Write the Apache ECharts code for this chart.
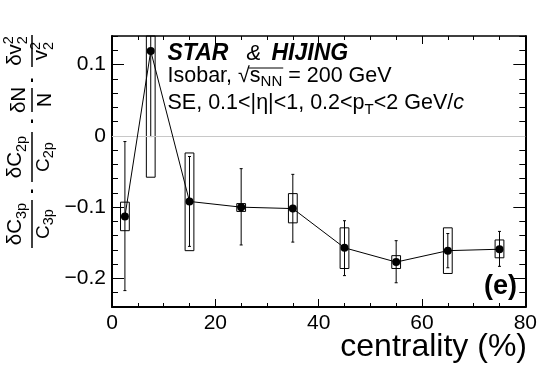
<!DOCTYPE html>
<html><head><meta charset="utf-8">
<script src="https://cdn.jsdelivr.net/npm/echarts@6/dist/echarts.min.js"></script>
<style>html,body{margin:0;padding:0;background:#fff}#c{width:540px;height:366px}</style>
</head><body><div id="c"></div>
<script>
// ---- data ----
const centrality = [2.5, 7.5, 15, 25, 35, 45, 55, 65, 75];
const values   = [-0.113, 0.119, -0.092, -0.100, -0.102, -0.157, -0.177, -0.161, -0.159];
const statLow  = [-0.217, -0.001, -0.155, -0.153, -0.149, -0.196, -0.206, -0.185, -0.183];
const statHigh = [-0.008, 0.300, -0.029, -0.046, -0.054, -0.119, -0.147, -0.137, -0.134];
const sysLow   = [-0.133, -0.058, -0.161, -0.106, -0.122, -0.186, -0.186, -0.193, -0.171];
const sysHigh  = [-0.093, 0.200, -0.024, -0.095, -0.081, -0.129, -0.168, -0.129, -0.146];
const yMajorTicks = [-0.2, -0.1, 0, 0.1];
const yMinorTicks = [-0.24, -0.22, -0.18, -0.16, -0.14, -0.12, -0.08, -0.06, -0.04, -0.02, 0.02, 0.04, 0.06, 0.08, 0.12, 0.14];

const FF = '"Liberation Sans", Arial, Helvetica, sans-serif';
const ctx = document.createElement('canvas').getContext('2d');
function tw(t, s, b, i) { ctx.font = (i ? 'italic ' : 'normal ') + (b ? 'bold ' : 'normal ') + s + 'px ' + FF; return ctx.measureText(t).width; }
function txt(t, x, base, s, b, i, align) {
  return { type: 'text', x: x, y: base - 0.35 * s, silent: true,
    style: { text: t, fontSize: s, fontFamily: FF, fontWeight: b ? 'bold' : 'normal', fontStyle: i ? 'italic' : 'normal',
      fill: '#000', align: align || 'left', verticalAlign: 'middle' } };
}
// pieces laid out sequentially: {t,s,b,i,dy,gap}
function row(x, base, pieces, align) {
  let total = 0;
  pieces.forEach(p => { total += tw(p.t, p.s, p.b, p.i) + (p.gap || 0); });
  let cx = align === 'center' ? x - total / 2 : (align === 'right' ? x - total : x);
  const out = [];
  pieces.forEach(p => {
    cx += (p.gap || 0);
    out.push(txt(p.t, cx, base + (p.dy || 0), p.s, p.b, p.i));
    p._x = cx;
    cx += tw(p.t, p.s, p.b, p.i);
    p._end = cx;
  });
  return out;
}
function ln(x1, y1, x2, y2, w) { return { type: 'line', silent: true, shape: { x1, y1, x2, y2 }, style: { stroke: '#000', lineWidth: w || 1.5 } }; }

// ---- annotation text ----
const gfx = [];
gfx.push(txt('STAR', 167.5, 61.5, 23, true, true));
gfx.push(txt('&', 246.5, 61.5, 22, false, true));
gfx.push(txt('HIJING', 271.5, 61.5, 23, true, true));
const l2 = [{ t: 'Isobar, ', s: 21.5 }, { t: '\u221A', s: 21.5 }, { t: 's', s: 21.5 }, { t: 'NN', s: 15, dy: 4 }, { t: ' = 200 GeV', s: 21.5 }];
gfx.push(...row(167.5, 83.5, l2));
gfx.push(ln(l2[1]._end - 1, 68, l2[3]._end + 1, 68, 1));
const l3 = [{ t: 'SE, 0.1<|\u03B7|<1, 0.2<p', s: 21.5 }, { t: 'T', s: 15, dy: 4 }, { t: '<2 GeV/', s: 21.5 }, { t: 'c', s: 21.5, i: true }];
gfx.push(...row(167.5, 111, l3));
gfx.push(txt('(e)', 517, 296, 27, true, false, 'right'));
gfx.push(txt('centrality (%)', 527, 358, 32, false, false, 'right'));

// ---- rotated y-axis title (local coords: x along text, y across) ----
const yt = [];
function frac(x0, x1, num, den) {
  const c = (x0 + x1) / 2;
  yt.push(ln(x0, 0, x1, 0, 1.5));
  yt.push(...row(c, num.base, num.pieces, 'center'));
  yt.push(...row(c, den.base, den.pieces, 'center'));
}
frac(0, 48, { base: -9, pieces: [{ t: '\u03B4C', s: 20.5 }, { t: '3p', s: 14.5, dy: 4 }] },
            { base: 18.5, pieces: [{ t: 'C', s: 19 }, { t: '3p', s: 14.5, dy: 4 }] });
yt.push(ln(55, 0, 58.5, 0, 2));
frac(66, 116, { base: -9, pieces: [{ t: '\u03B4C', s: 20.5 }, { t: '2p', s: 14.5, dy: 4 }] },
              { base: 18.5, pieces: [{ t: 'C', s: 19 }, { t: '2p', s: 14.5, dy: 4 }] });
yt.push(ln(125, 0, 128.5, 0, 2));
frac(136, 160, { base: -5, pieces: [{ t: '\u03B4N', s: 20.5 }] },
               { base: 20, pieces: [{ t: 'N', s: 19.5 }] });
yt.push(ln(166, 0, 169.5, 0, 2));
// delta v2^2 / v2^2 : super and sub stacked
(function () {
  const x0 = 181, x1 = 213, c = (x0 + x1) / 2;
  yt.push(ln(x0, 0, x1, 0, 1.5));
  const wn = tw('\u03B4v', 20.5) + tw('2', 14.5);
  let sx = c - wn / 2;
  yt.push(txt('\u03B4v', sx, -9, 20.5));
  sx += tw('\u03B4v', 20.5);
  yt.push(txt('2', sx, -18, 14.5));
  yt.push(txt('2', sx, -4, 14.5));
  const wd = tw('v', 20.5) + tw('2', 14.5);
  let dx = c - wd / 2;
  yt.push(txt('v', dx, 17, 20.5));
  dx += tw('v', 20.5);
  yt.push(txt('2', dx, 9, 14.5));
  yt.push(txt('2', dx, 22, 14.5));
})();
gfx.push({ type: 'group', x: 32, y: 248, rotation: Math.PI / 2, children: yt });

// ---- chart ----
const chart = echarts.init(document.getElementById('c'), null, { renderer: 'canvas' });
const lbl = { fontSize: 21, color: '#000', fontFamily: FF };
const xBase = {
  type: 'value', min: 0, max: 80, interval: 20,
  axisLine: { show: true, onZero: false, lineStyle: { color: '#000', width: 2 } },
  axisTick: { show: true, inside: true, length: 8, lineStyle: { color: '#000', width: 1 } },
  minorTick: { show: true, splitNumber: 4, length: 4, lineStyle: { color: '#000', width: 1 } },
  splitLine: { show: false }, minorSplitLine: { show: false }
};
const yBase = {
  type: 'value', min: -0.24, max: 0.14, scale: true,
  axisLine: { show: true, onZero: false, lineStyle: { color: '#000', width: 2 } },
  splitLine: { show: false }
};
function yAx(pos, major, showLabel) {
  return Object.assign({}, yBase, {
    position: pos,
    axisLine: { show: major, onZero: false, lineStyle: { color: '#000', width: 2 } },
    axisTick: { show: true, inside: true, length: major ? 12 : 6, customValues: major ? yMajorTicks : yMinorTicks, lineStyle: { color: '#000', width: 1 } },
    axisLabel: showLabel ? Object.assign({ show: true, margin: 6, customValues: yMajorTicks,
      formatter: v => (Math.round(v * 10) / 10).toString().replace('-', '\u2212') }, lbl) : { show: false }
  });
}
chart.setOption({
  animation: false,
  backgroundColor: '#fff',
  grid: { left: 112, right: 12, top: 36, bottom: 59, containLabel: false },
  xAxis: [
    Object.assign({}, xBase, { position: 'bottom', axisLabel: Object.assign({ show: true, margin: 6 }, lbl) }),
    Object.assign({}, xBase, { position: 'top', axisLine: { show: true, onZero: false, lineStyle: { color: '#000', width: 1.5 } }, axisLabel: { show: false } })
  ],
  yAxis: [yAx('left', true, true), yAx('left', false, false), yAx('right', true, false), yAx('right', false, false)],
  series: [
    {
      type: 'custom', name: 'sys', xAxisIndex: 0, yAxisIndex: 0, z: 3,
      data: centrality.map((c, i) => [c, sysLow[i], sysHigh[i]]),
      renderItem: function (params, api) {
        const x = api.value(0), lo = api.value(1), hi = api.value(2);
        const p1 = api.coord([x - 0.85, hi]), p2 = api.coord([x + 0.85, lo]);
        const cs = params.coordSys;
        const top = Math.max(p1[1], cs.y), bot = Math.min(p2[1], cs.y + cs.height);
        return { type: 'rect', shape: { x: p1[0], y: top, width: p2[0] - p1[0], height: bot - top },
          style: { fill: 'none', stroke: '#000', lineWidth: 1 } };
      }
    },
    {
      type: 'custom', name: 'stat', xAxisIndex: 0, yAxisIndex: 0, z: 3,
      data: centrality.map((c, i) => [c, statLow[i], statHigh[i]]),
      renderItem: function (params, api) {
        const x = api.value(0), lo = api.value(1), hi = api.value(2);
        const cs = params.coordSys;
        const pt = api.coord([x, hi]), pb = api.coord([x, lo]);
        const top = Math.max(pt[1], cs.y), bot = Math.min(pb[1], cs.y + cs.height);
        const ch = [{ type: 'line', shape: { x1: pt[0], y1: top, x2: pt[0], y2: bot }, style: { stroke: '#000', lineWidth: 1 } }];
        if (pt[1] >= cs.y) ch.push({ type: 'line', shape: { x1: pt[0] - 1.5, y1: top, x2: pt[0] + 1.5, y2: top }, style: { stroke: '#000', lineWidth: 1 } });
        if (pb[1] <= cs.y + cs.height) ch.push({ type: 'line', shape: { x1: pb[0] - 1.5, y1: bot, x2: pb[0] + 1.5, y2: bot }, style: { stroke: '#000', lineWidth: 1 } });
        return { type: 'group', children: ch };
      }
    },
    {
      type: 'line', name: 'val', xAxisIndex: 0, yAxisIndex: 0, z: 5,
      data: centrality.map((c, i) => [c, values[i]]),
      symbol: 'circle', symbolSize: 8,
      itemStyle: { color: '#000' }, lineStyle: { color: '#000', width: 1 },
      markLine: { silent: true, symbol: 'none', label: { show: false },
        lineStyle: { color: '#c8c8c8', width: 1, type: 'solid' }, data: [{ yAxis: 0 }] }
    }
  ],
  graphic: gfx
});
</script></body></html>
